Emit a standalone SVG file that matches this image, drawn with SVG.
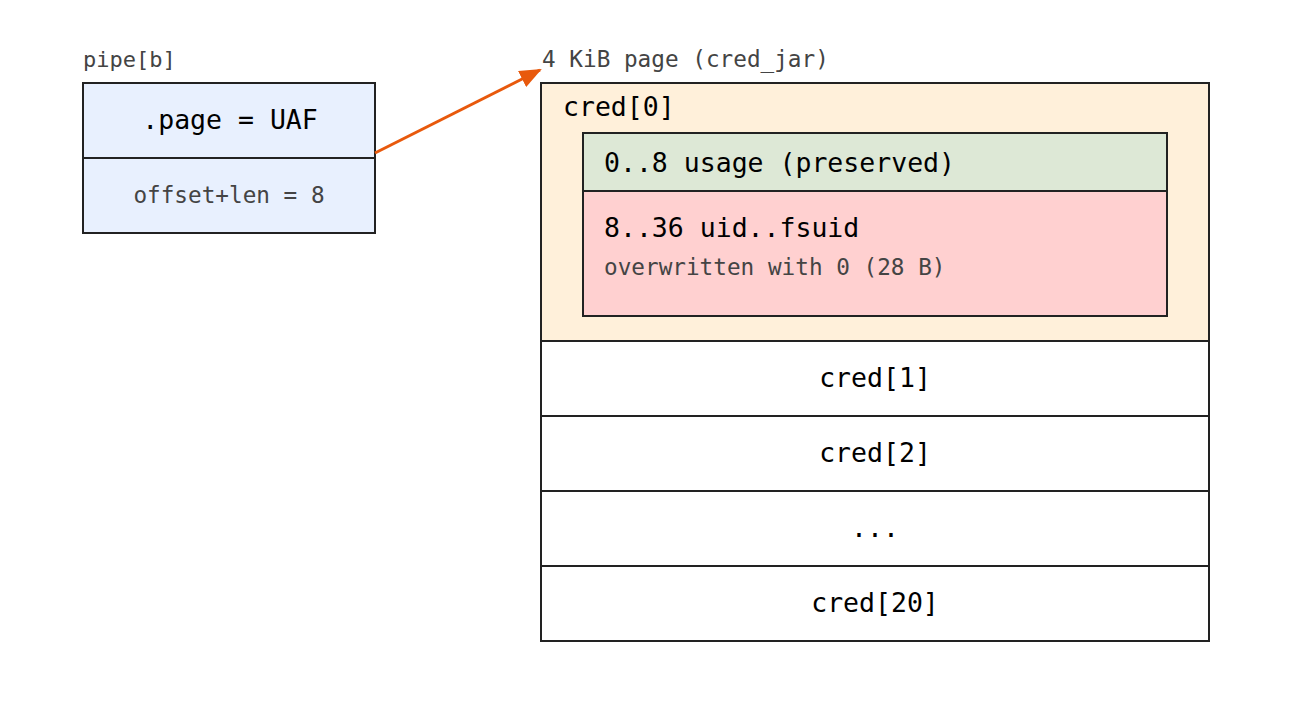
<svg xmlns="http://www.w3.org/2000/svg" width="1292" height="708" viewBox="0 0 1292 708">
<style>
text{font-family:"DejaVu Sans Mono",monospace}
.b{stroke:#222;stroke-width:2}
.t{font-size:26.5px;fill:#000}
.s{font-size:22.7px;fill:#444}
.m{text-anchor:middle}
</style>
<defs><marker id="a" markerWidth="22" markerHeight="18" refX="20" refY="9" orient="auto" markerUnits="userSpaceOnUse" viewBox="0 0 22 18"><path d="M0,0L22,9L0,18z" fill="#e8590c"/></marker></defs>
<rect width="1292" height="708" fill="#fff"/>
<g id="pipe">
<text class="s" x="83" y="67" style="font-size:22px">pipe[b]</text>
<rect class="b" x="83" y="83" width="292" height="150" fill="#e8f0fe"/>
<line class="b" x1="83" y1="158" x2="375" y2="158"/>
<text class="t m" x="230" y="129">.page = UAF</text>
<text class="s m" x="229" y="203">offset+len = 8</text>
</g>
<g id="page">
<text class="s" x="542" y="67">4 KiB page (cred_jar)</text>
<rect class="b" x="541" y="83" width="668" height="558" fill="#fff"/>
<rect class="b" x="541" y="83" width="668" height="258" fill="#fff0da"/>
<text class="t" x="563" y="116">cred[0]</text>
<rect class="b" x="583" y="133" width="584" height="58" fill="#dde8d6"/>
<text class="t" x="604" y="172">0..8 usage (preserved)</text>
<rect class="b" x="583" y="191" width="584" height="125" fill="#ffd0d0"/>
<text class="t" x="604" y="237">8..36 uid..fsuid</text>
<text class="s" x="604" y="275">overwritten with 0 (28 B)</text>
<line class="b" x1="541" y1="416" x2="1209" y2="416"/>
<line class="b" x1="541" y1="491" x2="1209" y2="491"/>
<line class="b" x1="541" y1="566" x2="1209" y2="566"/>
<text class="t m" x="875" y="387">cred[1]</text>
<text class="t m" x="875" y="462">cred[2]</text>
<text class="t m" x="875" y="537">...</text>
<text class="t m" x="875" y="612">cred[20]</text>
</g>
<g id="connectors">
<line x1="375" y1="153" x2="540" y2="70" stroke="#e8590c" stroke-width="3" marker-end="url(#a)"/>
</g>
</svg>
